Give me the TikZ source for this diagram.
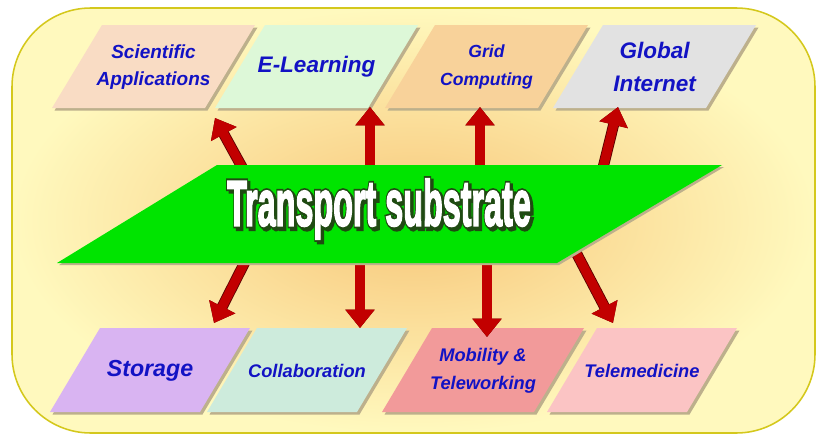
\documentclass[tikz,border=0pt]{standalone}
\usepackage{fontspec}
\setmainfont{Liberation Sans}
\newfontfamily\heavyfont{Liberation Sans Bold}[FakeBold=3]
\newfontfamily\rimfont{Liberation Sans Bold}[FakeBold=8.5]
\usetikzlibrary{arrows.meta}
\definecolor{FrameEdge}{HTML}{D4C81C}
\definecolor{FramePale}{HTML}{FFF9BE}
\definecolor{FrameGlow}{HTML}{F7C679}
\definecolor{SubGreen}{HTML}{00E400}
\definecolor{SubShade}{HTML}{1F4A12}
\definecolor{ArrowRed}{HTML}{C20000}
\definecolor{ArrowEdge}{HTML}{5A0000}
\definecolor{LabelBlue}{HTML}{1212C4}
\definecolor{PlateShadow}{HTML}{BDB08C}
\definecolor{SciPeach}{HTML}{F9DCC4}
\definecolor{LearnMint}{HTML}{DDF8D8}
\definecolor{GridTan}{HTML}{F8D29A}
\definecolor{NetGrey}{HTML}{E2E2E2}
\definecolor{StoreLilac}{HTML}{D9B4F2}
\definecolor{CollabSea}{HTML}{CDEBDC}
\definecolor{MobSalmon}{HTML}{F29A9A}
\definecolor{TeleRose}{HTML}{FBC4C4}

\begin{document}
\begin{tikzpicture}[x=0.025cm,y=-0.025cm,
  tag/.style={text=LabelBlue,align=center,inner sep=0pt},
  bigtext/.style={inner sep=0pt,font=\fontsize{46}{46}\selectfont\heavyfont},
  rimtext/.style={inner sep=0pt,text=SubShade,font=\fontsize{46}{46}\selectfont\rimfont},
  flow/.style={draw=ArrowRed,line width=6.6pt,-{Triangle[length=13pt,width=20pt]},
    preaction={draw=ArrowEdge,line width=7.8pt}}]
  \useasboundingbox (0,0) rectangle (817,435);
  % frame with the warm glow in the middle
  \shadedraw[draw=FrameEdge,line width=1.1pt,rounded corners=56pt,
    inner color=FrameGlow,outer color=FramePale] (12,8) rectangle (815,433);

  % upper row of plates
  \foreach \bx/\col/\nm/\txt/\fs/\ls in {52/SciPeach/sci/{Scientific\\Applications}/13.5/19,
      215/LearnMint/elearn/{E-Learning}/16/20, 385/GridTan/grid/{Grid\\Computing}/12.5/20,
      553/NetGrey/inet/{Global\\Internet}/16/23}{
    \fill[PlateShadow] (\bx+2.5,110.5) -- ++(50,-83) -- ++(153,0) -- ++(-50,83) -- cycle;
    \fill[\col] (\bx,108) -- ++(50,-83) -- ++(153,0) -- ++(-50,83) -- cycle;
    \node[tag,font=\fontsize{\fs}{\ls}\selectfont\bfseries\itshape] (\nm) at (\bx+101.5,67) {\txt};
  }
  % lower row of plates
  \foreach \bx/\pw/\col/\nm/\txt/\fs/\ls in {50/150/StoreLilac/store/{Storage}/16.5/20,
      207/150/CollabSea/collab/{Collaboration}/13/18, 382/152/MobSalmon/mobil/{Mobility \&\\Teleworking}/13/20,
      547/140/TeleRose/tele/{Telemedicine}/13/18}{
    \fill[PlateShadow] (\bx+2.5,414.5) -- ++(50,-84) -- ++(\pw,0) -- ++(-50,84) -- cycle;
    \fill[\col] (\bx,412) -- ++(50,-84) -- ++(\pw,0) -- ++(-50,84) -- cycle;
    \node[tag,font=\fontsize{\fs}{\ls}\selectfont\bfseries\itshape] (\nm) at (\bx+25+\pw/2,371) {\txt};
  }

  % arrow ends
  \coordinate (s1) at (248,178); \coordinate (t1) at (215,118);
  \coordinate (s2) at (370,180); \coordinate (t2) at (370,107);
  \coordinate (s3) at (480,180); \coordinate (t3) at (480,107);
  \coordinate (s4) at (600,180); \coordinate (t4) at (618,107);
  \coordinate (s5) at (249,254); \coordinate (t5) at (214,323);
  \coordinate (s6) at (360,250); \coordinate (t6) at (360,328);
  \coordinate (s7) at (487,250); \coordinate (t7) at (487,337);
  \coordinate (s8) at (569,239); \coordinate (t8) at (613,323);
  \foreach \i in {1,...,8} \draw[flow] (s\i) -- (t\i);

  % the substrate plate
  \fill[PlateShadow] (59,265) -- (219,167) -- (724,167) -- (559,265) -- cycle;
  \fill[SubGreen] (57,263) -- (217,165) -- (722,165) -- (557,263) -- cycle;
  \node[rimtext,xshift=1.8pt,yshift=-1.8pt] (sub-shadow) at (379,209) {\scalebox{0.5}[1]{Transport substrate}};
  \node[rimtext] (sub-rim) at (379,209) {\scalebox{0.5}[1]{Transport substrate}};
  \node[bigtext,text=white] (sub) at (379,209) {\scalebox{0.5}[1]{Transport substrate}};
\end{tikzpicture}
\end{document}
